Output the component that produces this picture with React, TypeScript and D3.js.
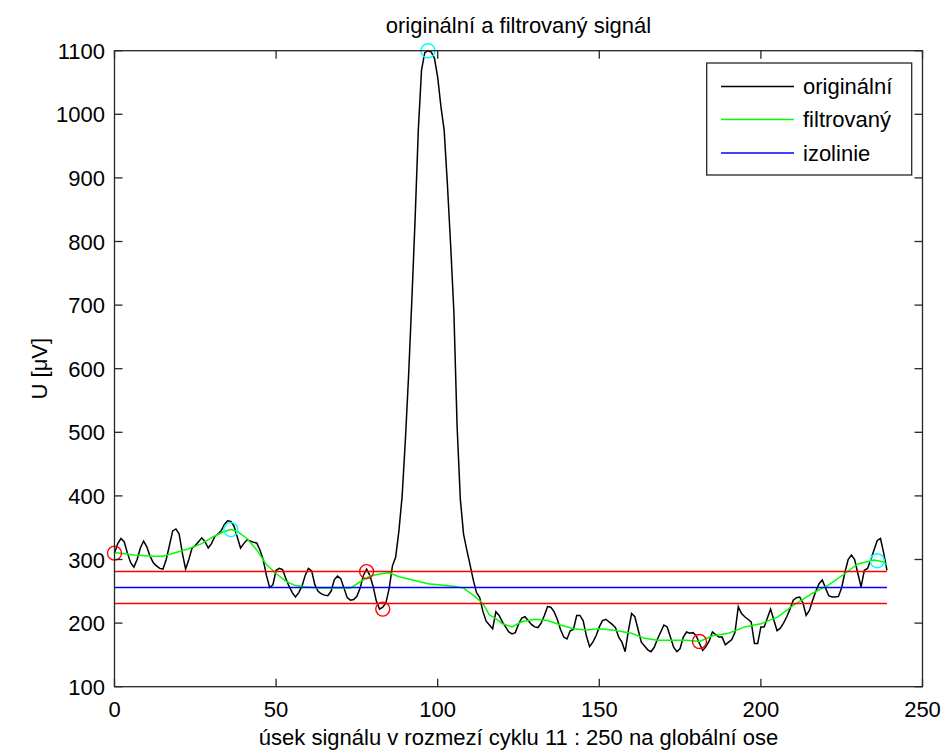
import React from "react";
import * as d3 from "d3";

const original = [
  310, 325, 333, 328, 310, 295, 288, 300, 318, 329,
  320, 305, 295, 290, 286, 285, 300, 322, 345, 348,
  340, 310, 285, 300, 318, 322, 328, 334, 328, 318,
  325, 336, 340, 345, 355, 361, 360, 352, 335, 318,
  325, 331, 329, 327, 326, 315, 300, 275, 256, 260,
  283, 286, 284, 270, 258, 248, 241, 248, 258, 275,
  286, 282, 260, 250, 246, 244, 243, 250, 268, 274,
  270, 255, 240, 236, 237, 242, 255, 275, 285, 275,
  258, 235, 222, 225, 232, 255, 290, 304, 345, 400,
  488, 590, 708, 834, 975, 1070, 1097, 1100, 1098, 1088,
  1058, 1012, 975, 890, 795, 690, 510, 395, 340, 315,
  292, 268, 248, 240, 218, 203, 197, 191, 218, 212,
  202, 194, 186, 183, 185, 198, 208, 210, 204, 198,
  194, 193, 200, 212, 226, 225, 218, 206, 190, 178,
  175, 188, 190, 212, 212, 204, 180, 163, 170, 180,
  194, 204, 206, 202, 198, 193, 178, 170, 155, 188,
  215, 210, 190, 170, 164, 158, 155, 162, 175, 186,
  197, 194, 178, 162, 155, 160, 178, 186, 184, 185,
  180, 168, 157, 163, 172, 186, 182, 178, 178, 166,
  170, 174, 186, 226, 215, 210, 206, 202, 168, 168,
  194, 194, 208, 222, 205, 188, 192, 200, 210, 222,
  236, 240, 241, 232, 212, 220, 236, 250, 262, 268,
  255, 243, 241, 241, 242, 256, 280, 300, 307, 300,
  278, 257, 283, 286, 300, 315, 330, 333, 310, 283,
];

const filteredX = [
  0, 6, 12, 15, 19, 23, 27, 31, 34, 36, 38, 41, 44, 47, 50, 53, 56, 59, 63, 67,
  73, 76, 79, 83, 85, 88, 92, 97, 101, 105, 108, 111, 114, 116, 118, 120, 123,
  126, 130, 134, 138, 142, 146, 150, 154, 160, 164, 168, 173, 177, 181, 185,
  190, 195, 200, 205, 210, 216, 221, 226, 230, 235, 238, 239,
];
const filteredY = [
  311, 307, 305, 305, 311, 317, 325, 337, 344, 347, 344, 333, 315, 292, 278, 266,
  259, 257, 255, 255, 255, 265, 274, 278, 279, 273, 268, 262, 260, 258, 255, 244,
  231, 213, 207, 199, 194, 202, 206, 204, 197, 191, 189, 191, 189, 184, 176, 173,
  173, 173, 171, 180, 184, 194, 199, 209, 228, 247, 260, 278, 293, 299, 296, 291,
];

const isoline = 256;
const bandLow = 231;
const bandHigh = 281;
const lineStart = 0;
const lineEnd = 239;

const redMarkX = [0, 78, 83, 181];
const redMarkY = [310, 281, 222, 171];
const cyanMarkX = [36, 97, 236];
const cyanMarkY = [347, 1100, 298];

const xTicks = [0, 50, 100, 150, 200, 250];
const yTicks = [100, 200, 300, 400, 500, 600, 700, 800, 900, 1000, 1100];
const legendLabels = ["originální", "filtrovaný", "izolinie"];

const titleText = "originální a filtrovaný signál";
const xLabelText = "úsek signálu v rozmezí cyklu 11 : 250 na globální ose";
const yLabelText = "U [μV]";

const W = 947;
const H = 756;
const L = 114.5;
const R = 922.5;
const T = 50.7;
const B = 686.7;
const FONT = "'Liberation Sans', Arial, Helvetica, sans-serif";

export default function App() {
  const x = d3.scaleLinear().domain([0, 250]).range([L, R]);
  const y = d3.scaleLinear().domain([100, 1100]).range([B, T]);

  const origLine = d3
    .line<number>()
    .x((_, i) => x(i))
    .y((d) => y(d))(original) as string;

  const filtLine = d3
    .line<number>()
    .x((_, i) => x(filteredX[i]))
    .y((d) => y(d))(filteredY) as string;

  const hline = (v: number) =>
    d3.line<number>().x((d) => x(d)).y(() => y(v))([lineStart, lineEnd]) as string;

  const tickLen = 8;
  const axisColor = "#262626";

  const legLeft = 706.7;
  const legTop = 63;
  const legW = 205;
  const legH = 112;
  const legRows = [86.5, 119.5, 153];
  const legColors = ["#000000", "#00ff00", "#0000ff"];

  return (
    <svg
      width={W}
      height={H}
      style={{ position: "absolute", left: 0, top: 0, background: "#fff" }}
      fontFamily={FONT}
    >
      <rect x={0} y={0} width={W} height={H} fill="#ffffff" />
      <rect x={L} y={T} width={R - L} height={B - T} fill="#ffffff" />

      {/* data */}
      <path d={origLine} fill="none" stroke="#000" strokeWidth={1.5} />
      <path d={filtLine} fill="none" stroke="#00ff00" strokeWidth={1.5} />
      <path d={hline(bandHigh)} stroke="#ff0000" strokeWidth={1.5} />
      <path d={hline(isoline)} stroke="#0000ff" strokeWidth={1.5} />
      <path d={hline(bandLow)} stroke="#ff0000" strokeWidth={1.5} />
      {redMarkX.map((v, i) => (
        <circle key={"r" + i} cx={x(v)} cy={y(redMarkY[i])} r={7} fill="none" stroke="#ff0000" strokeWidth={1.4} />
      ))}
      {cyanMarkX.map((v, i) => (
        <circle key={"c" + i} cx={x(v)} cy={y(cyanMarkY[i])} r={7} fill="none" stroke="#00ffff" strokeWidth={1.4} />
      ))}

      {/* axes box */}
      <rect x={L} y={T} width={R - L} height={B - T} fill="none" stroke={axisColor} strokeWidth={1.3} />
      {xTicks.map((t) => (
        <g key={"xt" + t}>
          <line x1={x(t)} x2={x(t)} y1={B} y2={B - tickLen} stroke={axisColor} strokeWidth={1.3} />
          <line x1={x(t)} x2={x(t)} y1={T} y2={T + tickLen} stroke={axisColor} strokeWidth={1.3} />
          <text x={x(t)} y={717} textAnchor="middle" fontSize={22} fill="#000">
            {t}
          </text>
        </g>
      ))}
      {yTicks.map((t) => (
        <g key={"yt" + t}>
          <line x1={L} x2={L + tickLen} y1={y(t)} y2={y(t)} stroke={axisColor} strokeWidth={1.3} />
          <line x1={R} x2={R - tickLen} y1={y(t)} y2={y(t)} stroke={axisColor} strokeWidth={1.3} />
          <text x={105} y={y(t) + 8} textAnchor="end" fontSize={22} fill="#000">
            {t}
          </text>
        </g>
      ))}

      {/* labels */}
      <text x={(L + R) / 2} y={33} textAnchor="middle" fontSize={22} fill="#000">
        {titleText}
      </text>
      <text x={(L + R) / 2} y={745} textAnchor="middle" fontSize={22} fill="#000">
        {xLabelText}
      </text>
      <text
        transform={`translate(47, ${(T + B) / 2}) rotate(-90)`}
        textAnchor="middle"
        fontSize={22}
        fill="#000"
      >
        {yLabelText}
      </text>

      {/* legend */}
      <rect x={legLeft} y={legTop} width={legW} height={legH} fill="#fff" stroke={axisColor} strokeWidth={1.3} />
      {legendLabels.map((lab, i) => (
        <g key={lab}>
          <line x1={721} x2={794} y1={legRows[i]} y2={legRows[i]} stroke={legColors[i]} strokeWidth={1.5} />
          <text x={803} y={legRows[i] + 7.5} fontSize={22} fill="#000">
            {lab}
          </text>
        </g>
      ))}
    </svg>
  );
}
